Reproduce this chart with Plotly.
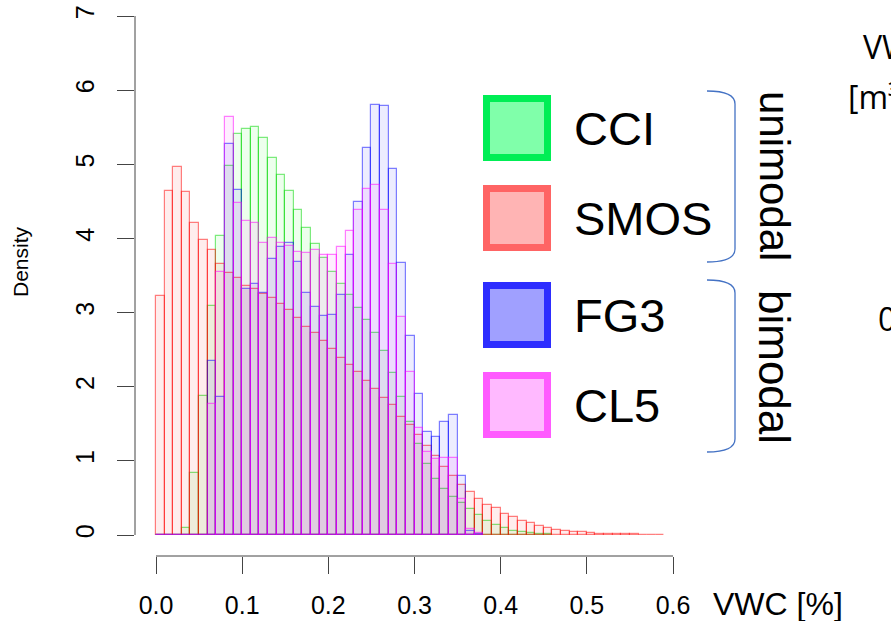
import plotly.graph_objects as go

# ---------------- data (density per 0.01-wide VWC bin, bins start at 0.00) ----------------
bin_width = 0.01
bin_left = [round(i * bin_width, 2) for i in range(59)]

smos = [3.22, 4.64, 4.96, 4.63, 4.21, 3.98, 3.84, 3.66, 3.54, 3.47,
        3.36, 3.32, 3.25, 3.19, 3.11, 3.04, 2.93, 2.81, 2.72, 2.62,
        2.51, 2.39, 2.29, 2.20, 2.08, 1.97, 1.85, 1.76, 1.59, 1.48,
        1.35, 1.20, 1.07, 0.92, 0.80, 0.68, 0.575, 0.49, 0.41, 0.36,
        0.29, 0.24, 0.19, 0.16, 0.12, 0.09, 0.07, 0.055, 0.04, 0.035,
        0.03, 0.02, 0.015, 0.012, 0.01, 0.008, 0.006, 0.005, 0.004]

cci = [0, 0, 0, 0.10, 0.83, 1.87, 3.09, 4.03, 4.98, 5.41,
       5.48, 5.50, 5.35, 5.09, 4.86, 4.64, 4.38, 4.14, 3.93, 3.73,
       3.55, 3.39, 3.24, 3.06, 2.90, 2.72, 2.48, 2.19, 1.86, 1.53,
       1.23, 0.96, 0.75, 0.62, 0.51, 0.43, 0.35, 0.27, 0.19, 0.13,
       0.09, 0.06, 0.04, 0.03, 0.02, 0.01]

fg3 = [0, 0, 0, 0, 0, 0, 2.35, 1.86, 5.27, 4.65,
       3.32, 3.39, 3.27, 3.72, 3.89, 3.94, 3.68, 3.26, 3.08, 2.95,
       2.97, 3.24, 3.78, 4.49, 5.22, 5.80, 5.78, 4.94, 3.67, 2.68,
       1.90, 1.39, 1.32, 1.53, 1.62, 0.80, 0.05, 0.01]

cl5 = [0, 0, 0, 0, 0, 0, 1.77, 3.55, 5.64, 4.48,
       4.23, 4.21, 3.94, 4.01, 3.94, 3.90, 3.82, 3.80, 3.85, 3.77,
       3.77, 3.88, 4.10, 4.38, 4.67, 4.72, 4.39, 3.66, 2.94, 2.20,
       1.44, 1.12, 1.03, 1.04, 1.04, 0.49, 0.08, 0.03]

series_names = ["CCI", "SMOS", "FG3", "CL5"]
series_vals = [cci, smos, fg3, cl5]
bar_fill = ["rgba(0,255,0,0.07)", "rgba(255,0,0,0.07)", "rgba(0,0,255,0.07)", "rgba(255,0,255,0.07)"]
bar_line = ["rgba(0,215,0,0.5)", "rgba(255,0,0,0.5)", "rgba(0,0,255,0.5)", "rgba(255,0,255,0.5)"]
leg_fill = ["rgb(128,255,170)", "rgb(255,180,180)", "rgb(160,160,255)", "rgb(255,185,255)"]
leg_line = ["rgb(0,238,85)", "rgb(255,100,100)", "rgb(45,45,255)", "rgb(255,90,255)"]

x_ticks = [0.0, 0.1, 0.2, 0.3, 0.4, 0.5, 0.6]
x_ticktext = ["0.0", "0.1", "0.2", "0.3", "0.4", "0.5", "0.6"]
y_ticks = [0, 1, 2, 3, 4, 5, 6, 7]

# ---------------- layout geometry (pixels) ----------------
W, H = 891, 621
L, R, T, B = 135, 891, 10, 556
PW, PH = R - L, B - T
X0PX, XPU = 156.0, 861.67
Y0PX, YPU = 535.0, 74.14
x_range = [(L - X0PX) / XPU, (R - X0PX) / XPU]
y_range = [(Y0PX - B) / YPU, (Y0PX - T) / YPU]


def px(xp):
    return (xp - L) / PW


def py(yp):
    return (B - yp) / PH


FONT = "Liberation Sans, Arial, Helvetica, sans-serif"

fig = go.Figure()
for name, vals, fc, lc in zip(series_names, series_vals, bar_fill, bar_line):
    fig.add_trace(go.Bar(
        x=[b + bin_width / 2 for b in bin_left[:len(vals)]],
        y=vals, width=bin_width, name=name,
        marker=dict(color=fc, line=dict(color=lc, width=1.2)),
        showlegend=False,
    ))

shapes = []
# R-style detached axis lines
shapes.append(dict(type="line", xref="x", yref="paper", x0=x_ticks[0], x1=x_ticks[-1], y0=0, y1=0,
                   line=dict(color="#444", width=1)))
shapes.append(dict(type="line", xref="paper", yref="y", x0=0, x1=0, y0=y_ticks[0], y1=y_ticks[-1],
                   line=dict(color="#444", width=1)))

annotations = []
# legend boxes
leg_top = [98.5, 188.5, 285.5, 375.5]
for i, name in enumerate(series_names):
    y0p = leg_top[i]
    shapes.append(dict(type="rect", xref="paper", yref="paper",
                       x0=px(486.5), x1=px(547.5), y0=py(y0p + 59), y1=py(y0p),
                       fillcolor=leg_fill[i], line=dict(color=leg_line[i], width=7)))
    annotations.append(dict(xref="paper", yref="paper", x=px(572), y=py(y0p + 29.5),
                            xanchor="left", yanchor="middle", text=name, showarrow=False,
                            font=dict(family=FONT, size=47, color="black")))


def brace(y_top, y_bot):
    xa, xb = 707, 735
    return ("M {a},{b} Q {c},{b} {c},{d} L {c},{e} Q {c},{f} {a},{f}".format(
        a=px(xa), b=py(y_top), c=px(xb), d=py(y_top + 13), e=py(y_bot - 13), f=py(y_bot)))


shapes.append(dict(type="path", xref="paper", yref="paper", path=brace(91, 262),
                   line=dict(color="rgb(68,114,196)", width=1.3)))
shapes.append(dict(type="path", xref="paper", yref="paper", path=brace(280, 452),
                   line=dict(color="rgb(68,114,196)", width=1.3)))

annotations.append(dict(xref="paper", yref="paper", x=px(775), y=py(176), text="unimodal",
                        textangle=90, showarrow=False, xanchor="center", yanchor="middle",
                        font=dict(family=FONT, size=42, color="black")))
annotations.append(dict(xref="paper", yref="paper", x=px(775), y=py(367), text="bimodal",
                        textangle=90, showarrow=False, xanchor="center", yanchor="middle",
                        font=dict(family=FONT, size=44, color="black")))

# axis titles
annotations.append(dict(xref="paper", yref="paper", x=px(20), y=py(262), text="Density",
                        textangle=-90, showarrow=False, xanchor="center", yanchor="middle",
                        font=dict(family=FONT, size=21, color="black")))
annotations.append(dict(xref="paper", yref="paper", x=px(711), y=py(604), text="VWC [%]",
                        showarrow=False, xanchor="left", yanchor="middle",
                        font=dict(family=FONT, size=32, color="black")))

# partially visible text from the neighbouring panel (clipped by the right edge, as in the source)
RFONT = "Open Sans, Noto Sans, sans-serif"
annotations.append(dict(xref="paper", yref="paper", x=px(861), y=py(47), text="VWC",
                        showarrow=False, xanchor="left", yanchor="middle",
                        font=dict(family=RFONT, size=32, color="black")))
annotations.append(dict(xref="paper", yref="paper", x=px(846), y=py(96), text="[m³/m³]",
                        showarrow=False, xanchor="left", yanchor="middle",
                        font=dict(family=RFONT, size=32, color="black")))
annotations.append(dict(xref="paper", yref="paper", x=px(876), y=py(318), text="0.3",
                        showarrow=False, xanchor="left", yanchor="middle",
                        font=dict(family=RFONT, size=32, color="black")))

fig.update_layout(
    width=W, height=H,
    margin=dict(l=L, r=W - R, t=T, b=H - B, pad=0),
    paper_bgcolor="white", plot_bgcolor="white",
    barmode="overlay", bargap=0,
    shapes=shapes, annotations=annotations,
    xaxis=dict(range=x_range, tickvals=x_ticks, ticktext=x_ticktext, ticks="outside",
               ticklen=17, tickcolor="#444", tickwidth=1, showgrid=False, zeroline=False,
               showline=False, ticklabelstandoff=10,
               tickfont=dict(family=FONT, size=25, color="black")),
    yaxis=dict(range=y_range, tickvals=y_ticks, ticks="outside", ticklen=17, tickcolor="#444",
               tickwidth=1, showgrid=False, zeroline=False, showline=False, tickangle=-90,
               ticklabelstandoff=13,
               tickfont=dict(family=FONT, size=25, color="black")),
    showlegend=False,
)

fig.write_html("out.html")
